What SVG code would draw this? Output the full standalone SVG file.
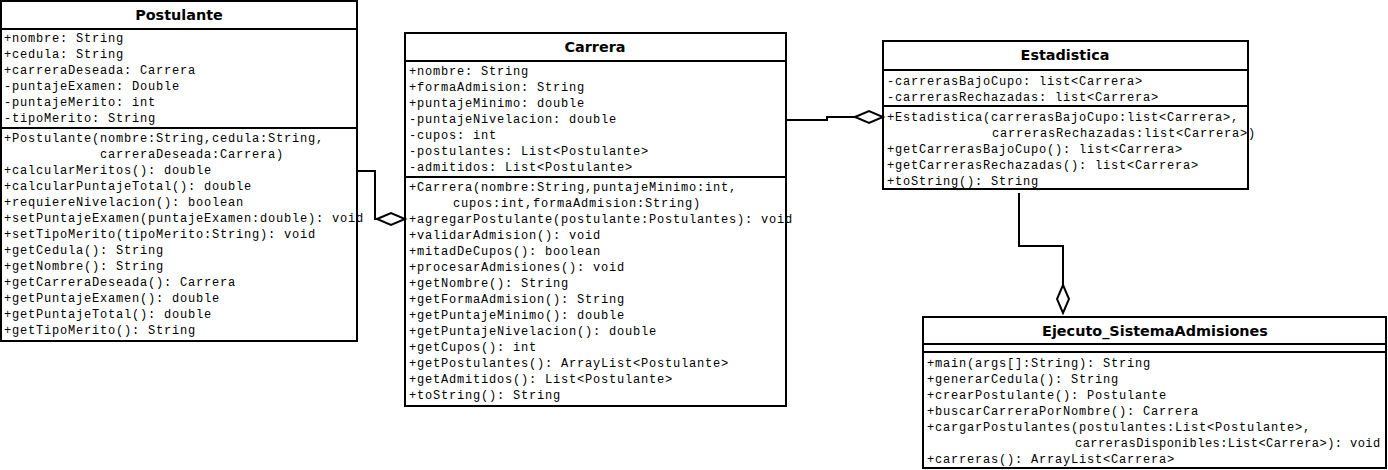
<svg xmlns="http://www.w3.org/2000/svg" width="1388" height="470" viewBox="0 0 1388 470">
<style>
.bg{fill:#fff;stroke:none}
.frame{fill:none;stroke:#000;stroke-width:2}
.div{stroke:#000;stroke-width:2}
.title{font-family:"DejaVu Sans",Verdana,sans-serif;font-weight:bold;font-size:14.4px;text-anchor:middle;fill:#000}
.m{font-family:"Liberation Mono","Courier New",monospace;font-size:12px;letter-spacing:0.8px;fill:#000;white-space:pre}
.edge{fill:none;stroke:#000;stroke-width:2}
.dia{fill:#fff;stroke:#000;stroke-width:2}
</style>
<rect width="1388" height="470" fill="#fff"/>

<g id="Postulante">
<rect class="bg" x="1" y="1" width="356" height="340"/>
<text class="title" x="179" y="20">Postulante</text>
<g class="m">
<text x="4" y="42">+nombre: String</text>
<text x="4" y="58">+cedula: String</text>
<text x="4" y="74">+carreraDeseada: Carrera</text>
<text x="4" y="90">-puntajeExamen: Double</text>
<text x="4" y="106">-puntajeMerito: int</text>
<text x="4" y="122">-tipoMerito: String</text>
<text x="4" y="142">+Postulante(nombre:String,cedula:String,</text>
<text x="100" y="158">carreraDeseada:Carrera)</text>
<text x="4" y="174">+calcularMeritos(): double</text>
<text x="4" y="190">+calcularPuntajeTotal(): double</text>
<text x="4" y="206">+requiereNivelacion(): boolean</text>
<text x="4" y="222">+setPuntajeExamen(puntajeExamen:double): void</text>
<text x="4" y="238">+setTipoMerito(tipoMerito:String): void</text>
<text x="4" y="254">+getCedula(): String</text>
<text x="4" y="270">+getNombre(): String</text>
<text x="4" y="286">+getCarreraDeseada(): Carrera</text>
<text x="4" y="302">+getPuntajeExamen(): double</text>
<text x="4" y="318">+getPuntajeTotal(): double</text>
<text x="4" y="334">+getTipoMerito(): String</text>
</g>
<line class="div" x1="1" y1="29" x2="357" y2="29"/>
<line class="div" x1="1" y1="128" x2="357" y2="128"/>
<rect class="frame" x="1" y="1" width="356" height="340"/>
</g>

<g id="Carrera">
<rect class="bg" x="405" y="33" width="381" height="373"/>
<text class="title" x="595" y="52">Carrera</text>
<g class="m">
<text x="409" y="75">+nombre: String</text>
<text x="409" y="91">+formaAdmision: String</text>
<text x="409" y="107">+puntajeMinimo: double</text>
<text x="409" y="123">-puntajeNivelacion: double</text>
<text x="409" y="139">-cupos: int</text>
<text x="409" y="155">-postulantes: List&lt;Postulante&gt;</text>
<text x="409" y="171">-admitidos: List&lt;Postulante&gt;</text>
<text x="409" y="191">+Carrera(nombre:String,puntajeMinimo:int,</text>
<text x="453" y="207">cupos:int,formaAdmision:String)</text>
<text x="409" y="223">+agregarPostulante(postulante:Postulantes): void</text>
<text x="409" y="239">+validarAdmision(): void</text>
<text x="409" y="255">+mitadDeCupos(): boolean</text>
<text x="409" y="271">+procesarAdmisiones(): void</text>
<text x="409" y="287">+getNombre(): String</text>
<text x="409" y="303">+getFormaAdmision(): String</text>
<text x="409" y="319">+getPuntajeMinimo(): double</text>
<text x="409" y="335">+getPuntajeNivelacion(): double</text>
<text x="409" y="351">+getCupos(): int</text>
<text x="409" y="367">+getPostulantes(): ArrayList&lt;Postulante&gt;</text>
<text x="409" y="383">+getAdmitidos(): List&lt;Postulante&gt;</text>
<text x="409" y="399">+toString(): String</text>
</g>
<line class="div" x1="405" y1="61" x2="786" y2="61"/>
<line class="div" x1="405" y1="177" x2="786" y2="177"/>
<rect class="frame" x="405" y="33" width="381" height="373"/>
</g>

<g id="Estadistica">
<rect class="bg" x="883" y="41" width="365" height="148"/>
<text class="title" x="1065" y="60">Estadistica</text>
<g class="m">
<text x="887" y="85">-carrerasBajoCupo: list&lt;Carrera&gt;</text>
<text x="887" y="101">-carrerasRechazadas: list&lt;Carrera&gt;</text>
<text x="887" y="121">+Estadistica(carrerasBajoCupo:list&lt;Carrera&gt;,</text>
<text x="992" y="137">carrerasRechazadas:list&lt;Carrera&gt;)</text>
<text x="887" y="153">+getCarrerasBajoCupo(): list&lt;Carrera&gt;</text>
<text x="887" y="169">+getCarrerasRechazadas(): list&lt;Carrera&gt;</text>
<text x="887" y="185">+toString(): String</text>
</g>
<line class="div" x1="883" y1="70" x2="1248" y2="70"/>
<line class="div" x1="883" y1="106" x2="1248" y2="106"/>
<rect class="frame" x="883" y="41" width="365" height="148"/>
</g>

<g id="Ejecuto_SistemaAdmisiones">
<rect class="bg" x="923" y="317" width="463" height="151"/>
<text class="title" x="1155" y="336">Ejecuto_SistemaAdmisiones</text>
<g class="m">
<text x="927" y="367">+main(args[]:String): String</text>
<text x="927" y="383">+generarCedula(): String</text>
<text x="927" y="399">+crearPostulante(): Postulante</text>
<text x="927" y="415">+buscarCarreraPorNombre(): Carrera</text>
<text x="927" y="431">+cargarPostulantes(postulantes:List&lt;Postulante&gt;,</text>
<text x="1075" y="447" textLength="306" lengthAdjust="spacing">carrerasDisponibles:List&lt;Carrera&gt;): void</text>
<text x="927" y="463">+carreras(): ArrayList&lt;Carrera&gt;</text>
</g>
<line class="div" x1="923" y1="344" x2="1386" y2="344"/>
<line class="div" x1="923" y1="352" x2="1386" y2="352"/>
<rect class="frame" x="923" y="317" width="463" height="151"/>
</g>

<g id="connectors">
<polyline class="edge" points="357,171 375,171 375,219 377,219"/>
<polygon class="dia" points="377,219 391,213 405,219 391,225"/>
<polyline class="edge" points="786,120 827,120 827,117 855,117"/>
<polygon class="dia" points="855,117 869,111 883,117 869,123"/>
<polyline class="edge" points="1019,193 1019,246 1063,246 1063,285"/>
<polygon class="dia" points="1063,285 1069,299 1063,313 1057,299"/>
</g>
</svg>
